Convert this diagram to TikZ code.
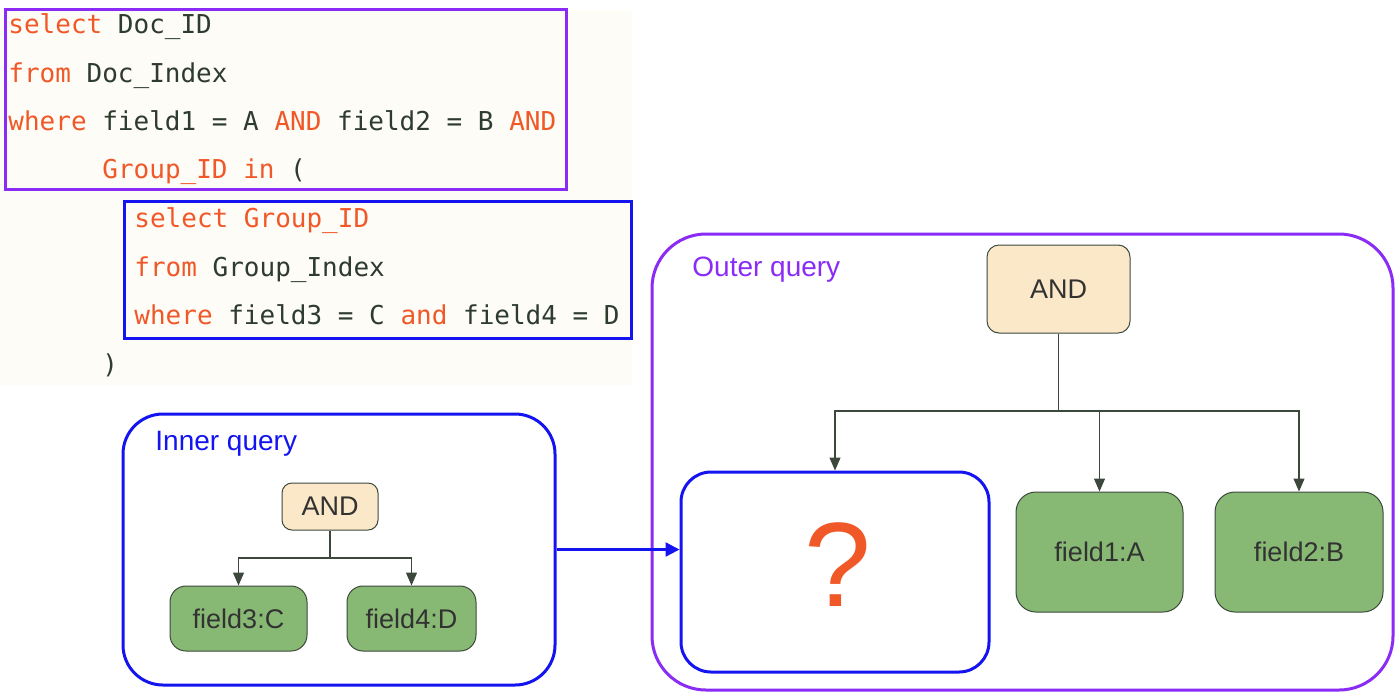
\documentclass[tikz,border=0pt]{standalone}
\usepackage{fontspec}
\setmainfont{Liberation Sans}
\newfontfamily\codefont{DejaVu Sans Mono}
\usetikzlibrary{arrows.meta}
\definecolor{kw}{RGB}{240,88,40}
\definecolor{idt}{RGB}{45,60,45}
\definecolor{purp}{RGB}{138,43,246}
\definecolor{blu}{RGB}{20,20,240}
\definecolor{gfill}{RGB}{136,185,116}
\definecolor{bfill}{RGB}{251,232,200}
\definecolor{bord}{RGB}{60,72,60}
\definecolor{cream}{RGB}{254,252,247}
\definecolor{txt}{RGB}{50,50,50}
\tikzset{
  codeline/.style={anchor=base west, inner sep=0pt, font=\codefont\fontsize{13pt}{15pt}\selectfont, text=idt},
  andbox/.style={draw=bord, line width=0.5pt, fill=bfill, rounded corners=5pt, text=txt, font=\fontsize{13.5pt}{16pt}\selectfont, inner sep=0pt},
  fieldbox/.style={draw=bord, line width=0.5pt, fill=gfill, rounded corners=8pt, text=txt, font=\fontsize{13.5pt}{16pt}\selectfont, inner sep=0pt},
  group/.style={line width=1.5pt, inner sep=0pt},
  conn/.style={draw=bord, line width=0.6pt, -{Triangle[length=6.5pt,width=5.5pt]}},
  grplabel/.style={anchor=base west, inner sep=0pt, font=\fontsize{14pt}{16pt}\selectfont},
}
\begin{document}
\begin{tikzpicture}[x=0.5pt,y=-0.5pt]
\useasboundingbox (0,0) rectangle (1400,697);
\fill[white] (0,0) rectangle (1400,697);
% code area
\fill[cream] (0,10) rectangle (632,385);
\node[group, draw=purp, minimum width=280.5pt, minimum height=90pt] (outercode) at (285.5,99) {};
\node[group, draw=blu, minimum width=253.5pt, minimum height=68.5pt] (innercode) at (377.5,269.5) {};
\node[codeline] (l1) at (8,33) {\textcolor{kw}{select} Doc\_ID};
\node[codeline] (l2) at (8,82) {\textcolor{kw}{from} Doc\_Index};
\node[codeline] (l3) at (8,130) {\textcolor{kw}{where} field1 = A \textcolor{kw}{AND} field2 = B \textcolor{kw}{AND}};
\node[codeline] (l4) at (102,178) {\textcolor{kw}{Group\_ID in} (};
\node[codeline] (l5) at (134,227) {\textcolor{kw}{select Group\_ID}};
\node[codeline] (l6) at (134,276) {\textcolor{kw}{from} Group\_Index};
\node[codeline] (l7) at (134,324) {\textcolor{kw}{where} field3 = C \textcolor{kw}{and} field4 = D};
\node[codeline] (l8) at (102,373) {)};
% inner query
\node[group, draw=blu, rounded corners=20pt, minimum width=216pt, minimum height=135.5pt] (innerbox) at (339,549.5) {};
\node[grplabel, text=blu] (innerlbl) at (155,450) {Inner query};
\node[andbox, minimum width=48pt, minimum height=23.5pt] (iand) at (330,506.5) {AND};
\node[fieldbox, minimum width=68.5pt, minimum height=32.5pt] (f3) at (238.5,618.5) {field3:C};
\node[fieldbox, minimum width=64.5pt, minimum height=32.5pt] (f4) at (411.5,618.5) {field4:D};
\coordinate (ij) at (330,558);
\draw[draw=bord, line width=0.6pt] (iand.south) -- (ij);
\draw[conn] (ij) -| (f3.north);
\draw[conn] (ij) -| (f4.north);
% outer query
\node[group, draw=purp, rounded corners=27pt, minimum width=370.5pt, minimum height=228pt] (outerbox) at (1022.5,462) {};
\node[grplabel, text=purp] (outerlbl) at (692,276) {Outer query};
\node[andbox, minimum width=71.5pt, minimum height=44pt, rounded corners=6pt] (oand) at (1058.5,289) {AND};
\node[group, draw=blu, rounded corners=15pt, minimum width=154pt, minimum height=100pt] (qbox) at (835,572) {};
\node[inner sep=0pt, text=kw, font=\fontsize{60pt}{60pt}\selectfont] (qmark) at (838,565) {?};
\node[fieldbox, minimum width=83.5pt, minimum height=60pt, rounded corners=10pt] (f1) at (1099.5,552) {field1:A};
\node[fieldbox, minimum width=84pt, minimum height=60pt, rounded corners=10pt] (f2) at (1299,552) {field2:B};
\coordinate (oj) at (1058.5,411);
\draw[draw=bord, line width=0.6pt] (oand.south) -- (oj);
\draw[conn] (oj) -| (qbox.north);
\draw[conn] (oj) -| (f1.north);
\draw[conn] (oj) -| (f2.north);
% link
\draw[blu, line width=1.2pt, -{Triangle[length=7pt,width=7pt]}] (innerbox.east) -- (qbox.west |- innerbox.east);
\end{tikzpicture}
\end{document}
